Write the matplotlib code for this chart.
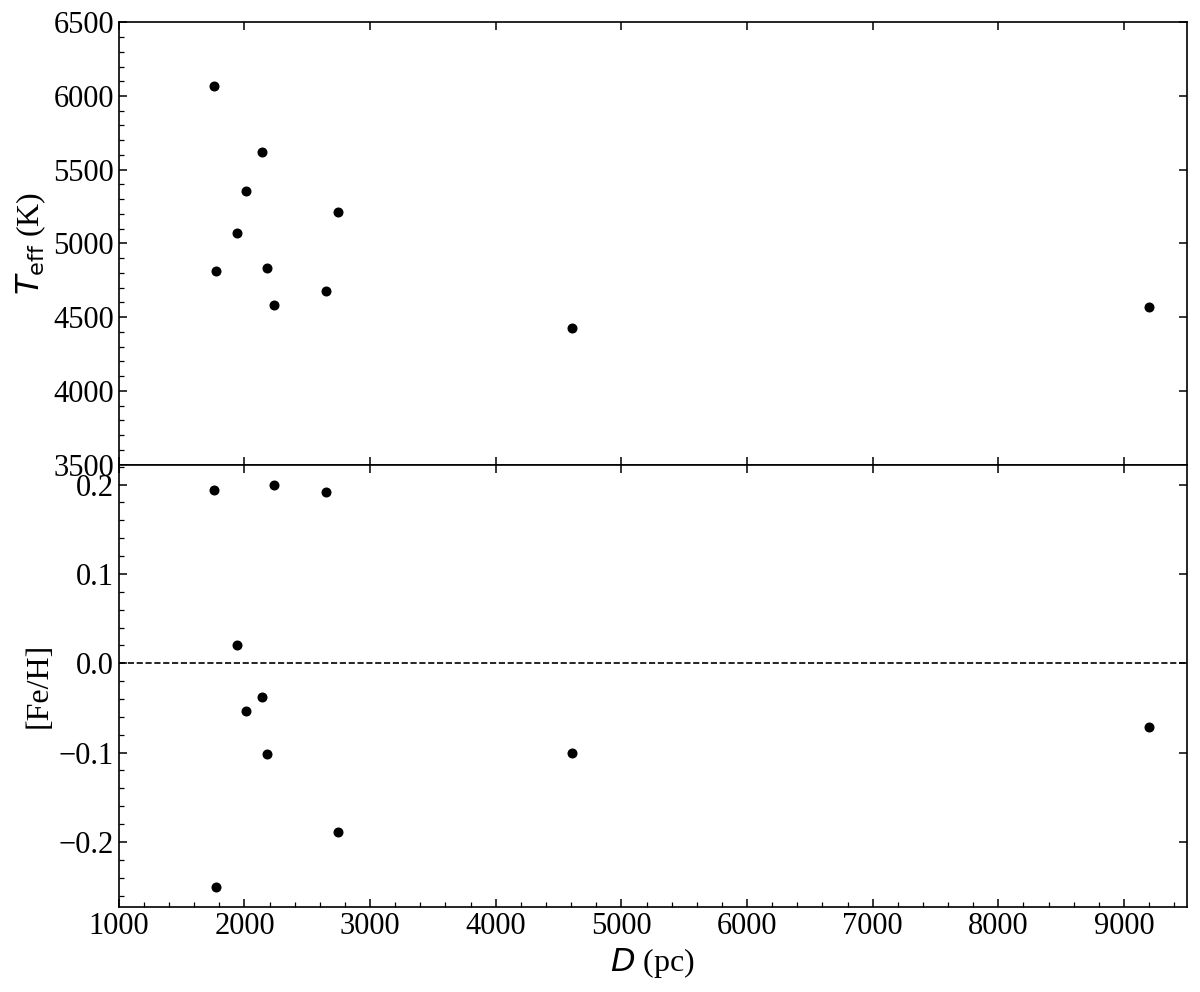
import matplotlib
matplotlib.use("Agg")
import matplotlib.pyplot as plt
from matplotlib.ticker import AutoMinorLocator

plt.rcParams['font.family'] = ['Liberation Serif', 'DejaVu Serif']
plt.rcParams['mathtext.fontset'] = 'dejavusans'

# distances (pc), effective temperatures (K) and metallicities
dist = [1757, 1775, 1940, 2013, 2138, 2180, 2233, 2651, 2744, 4606, 9201]
teff = [6068, 4816, 5074, 5356, 5621, 4832, 4581, 4680, 5216, 4425, 4568]
feh = [0.194, -0.250, 0.020, -0.053, -0.038, -0.102, 0.200, 0.192, -0.189, -0.100, -0.071]

fig, (ax1, ax2) = plt.subplots(2, 1, sharex=True, figsize=(12, 9.92), dpi=100)
fig.subplots_adjust(left=0.099, right=0.989, top=0.9775, bottom=0.086, hspace=0)

ax1.plot(dist, teff, 'o', color='black', ms=6.2)
ax2.plot(dist, feh, 'o', color='black', ms=6.2)
ax2.axhline(0, color='black', ls='--', lw=1.2)

ax1.set_ylim(3500, 6500)
ax1.set_xlim(1000, 9500)

for ax in (ax1, ax2):
    ax.xaxis.set_minor_locator(AutoMinorLocator(5))
    ax.yaxis.set_minor_locator(AutoMinorLocator(5))
    ax.tick_params(which='both', direction='in', labelsize=22)
    ax.tick_params(which='major', length=6, width=1.1, top=True, right=True)
    ax.tick_params(which='minor', length=3.5, width=0.9)
    for sp in ax.spines.values():
        sp.set_linewidth(1.2)

ax1.tick_params(which='minor', bottom=False)
ax2.tick_params(which='major', top=True)

ax1.set_ylabel(r'$T_{\rm eff}$ (K)', fontsize=23)
ax2.set_ylabel('[Fe/H]', fontsize=23)
ax2.set_xlabel(r'$D$ (pc)', fontsize=23)

fig.savefig('out.png', dpi=100)
